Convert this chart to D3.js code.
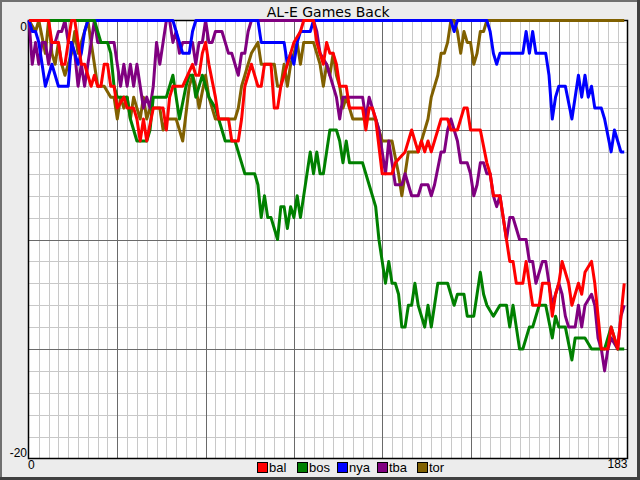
<!DOCTYPE html>
<html><head><meta charset="utf-8">
<script src="https://cdn.jsdelivr.net/npm/d3@7/dist/d3.min.js"></script>
<style>html,body{margin:0;padding:0;background:#ececec;}svg{display:block;}</style>
</head><body>
<svg id="c" width="640" height="480"></svg>
<script>
const title = "AL-E Games Back";
const teams = ["bal","bos","nya","tba","tor"];
const colors = ["#ff0000","#008000","#0000ff","#800080","#806000"];
const xTickLabels = ["0","183"];
const yTickLabels = ["0","-20"];

// [day, games back]
const bal = [[0,0],[6,0],[7,-1],[9,-1],[10,-2],[11,-2],[12,-1],[13,0],[14,0],[15,-1],[16,-2],[17,-2],[19,-3],[20,-2.5],[21,-3],[22,-3],[23,-2],[24,-2],[25,-3],[26,-3],[27,-4],[29,-3.5],[30,-4],[32,-4],[33,-4.5],[34,-5.5],[35,-4.5],[36,-5.5],[38,-4],[41,-4],[42,-5],[43,-3.5],[44,-3],[47,-3],[50,-2],[51,-2.5],[52,-2.5],[53,-1.5],[54,-1],[55,-2],[57,-3.5],[58,-4.5],[61,-4.5],[62,-5.5],[64,-5.5],[65,-4.5],[66,-3],[67,-2.5],[68,-2],[70,-3],[71,-3],[72,-2],[74,-2],[75,-4],[76,-4],[77,-3],[79,-2],[80,-1.5],[81,-1],[83,-0.5],[84,0],[87,0],[88,-1],[90,-2],[91,-1],[92,-1.5],[93,-1.5],[94,-2],[95,-3],[97,-3],[98,-4],[102,-4],[103,-5],[104,-4],[105,-4],[106,-4.5],[108,-7],[111,-7],[112,-6.5],[115,-6],[117,-5],[119,-6],[120,-5.5],[121,-6],[122,-5.5],[123,-6],[125,-5],[126,-4.5],[128,-4.5],[129,-5],[131,-5],[133,-4],[134,-4],[135,-5],[138,-5],[140,-6.5],[141,-7],[142,-8],[144,-8],[145,-9],[146,-10],[147,-11],[148,-11],[149,-12],[151,-12],[152,-11],[153,-12],[154,-13],[156,-13],[157,-12],[159,-12],[160,-13.5],[161,-12.5],[162,-12],[163,-11],[165,-12],[166,-13],[168,-12],[169,-12.5],[170,-11.5],[172,-11],[173,-12],[174,-13.5],[175,-15],[177,-15],[178,-14],[180,-15],[181,-13.5],[182,-12]];

const bos = [[0,0],[18,0],[20,0],[21,-0.5],[22,-1],[24,-1],[25,-1.5],[26,-3],[27,-3.5],[29,-3.5],[30,-3.5],[31,-4.5],[33,-5.5],[36,-5.5],[37,-5],[38,-3.5],[42,-3.5],[44,-2.5],[46,-4.5],[48,-3],[49,-2.5],[50,-2.5],[51,-3.5],[52,-3],[53,-2.5],[54,-3],[55,-3.5],[57,-4],[59,-5],[60,-5.5],[63,-5.5],[65,-6.5],[66,-7],[69,-7],[70,-7.5],[71,-9],[72,-8],[73,-9],[74,-9],[76,-10],[77,-8.5],[78,-8.5],[79,-9.5],[80,-8.5],[81,-9],[82,-8],[83,-9],[85,-7],[86,-6],[87,-7],[88,-6],[89,-7],[90,-7],[91,-6],[92,-5],[94,-5],[95,-5.5],[96,-6.5],[97,-5.5],[98,-6.5],[102,-6.5],[104,-7.5],[106,-8.5],[107,-10],[108,-11],[109,-12],[110,-11],[111,-12],[112,-12],[113,-12.5],[114,-14],[115,-14],[116,-13],[117,-13],[118,-12],[119,-13],[121,-14],[122,-13],[123,-14],[124,-13],[125,-12],[128,-12],[130,-13],[131,-12.5],[133,-12.5],[134,-13.5],[136,-13.5],[137,-12.5],[138,-11.5],[139,-12.5],[140,-13],[142,-13.5],[144,-13],[146,-13],[147,-14],[148,-13],[149,-14],[150,-15],[151,-15],[153,-14],[154,-14],[156,-13],[158,-13],[160,-14.5],[161,-13.5],[162,-14],[164,-14],[166,-15.5],[167,-14.5],[170,-14.5],[172,-15],[176,-15],[178,-14],[180,-15],[182,-15]];

const nya = [[0,0],[1,-0.5],[2,-0.5],[3,-1],[4,-2],[5,-3],[6,-2.5],[7,-2],[8,-2.5],[9,-3],[12,-3],[13,-1],[14,-1.5],[15,-2],[16,-1.5],[17,-0.5],[18,0],[44,0],[45,-0.5],[46,-1],[47,-1.5],[49,-1.5],[50,-0.5],[51,0],[70,0],[71,-1],[78,-1],[79,-2],[80,-1.5],[81,-2],[82,-1],[83,-0.5],[86,-0.5],[87,0],[129,0],[130,-0.5],[131,0],[140,0],[141,-0.5],[142,-1.5],[143,-2],[144,-1.5],[151,-1.5],[152,-0.5],[153,-1.5],[154,-0.5],[155,-1.5],[158,-1.5],[159,-2.5],[160,-4.5],[161,-3.5],[162,-3],[164,-3],[166,-4.5],[168,-2.5],[169,-3.5],[170,-2.5],[171,-3.5],[172,-3],[173,-4],[175,-4],[176,-4.5],[178,-6],[179,-5],[181,-6],[182,-6]];

const tba = [[0,0],[1,-2],[2,-1],[3,-2],[4,-1],[5,-1],[6,-2],[7,-1],[8,-1],[9,-0.5],[10,-0.5],[11,0],[12,-1],[13,-1],[14,-1.5],[15,-3],[16,-2],[17,-3],[18,-2],[19,-1],[20,0],[21,-1],[26,-1],[27,-2],[28,-3],[29,-2],[30,-3],[31,-2],[32,-3],[33,-2],[34,-3],[35,-4],[36,-3.5],[37,-4],[38,-3],[39,-1],[40,-2],[41,-1],[42,0],[43,0],[44,-1],[45,-0.5],[46,-1.5],[47,-1],[50,-1],[51,-2],[52,-1],[53,-1],[54,0],[55,-1],[56,-1],[57,-0.5],[59,-0.5],[60,-1],[61,-1.5],[62,-1.5],[63,-2],[64,-2.5],[65,-1.5],[66,-1.5],[67,-0.5],[68,0],[87,0],[88,-0.5],[89,-1.5],[91,-2],[92,-2.5],[93,-3],[94,-3.5],[95,-4.5],[96,-3.5],[101,-3.5],[102,-3.5],[103,-4.5],[104,-3.5],[105,-4],[106,-4.5],[107,-5],[108,-6],[109,-7],[110,-5.5],[111,-6.5],[112,-7.5],[114,-7.5],[115,-7],[116,-7.5],[117,-8],[119,-8],[120,-7.5],[122,-7.5],[123,-8],[124,-7.5],[126,-6],[127,-6],[128,-5],[129,-4.5],[130,-5],[131,-5.5],[132,-6.5],[134,-6.5],[135,-7],[136,-8],[137,-7.5],[138,-6.5],[139,-6.5],[140,-7],[141,-7],[142,-8],[143,-8.5],[144,-8],[145,-9],[146,-10],[147,-9],[148,-9],[149,-9.5],[150,-10],[152,-10],[153,-11],[154,-11],[155,-12],[157,-11],[158,-11],[159,-12],[160,-13],[162,-12],[163,-12.5],[164,-13.5],[165,-14],[167,-14],[168,-13],[169,-14],[170,-13],[172,-12.5],[173,-13],[174,-14.5],[175,-15],[176,-16],[177,-15],[178,-14.5],[180,-15],[181,-13.5],[182,-13]];

const tor = [[0,0],[2,-0.5],[3,0],[5,-1.5],[6,0],[7,-1.5],[8,-2],[9,-1],[10,-2],[11,-2.5],[12,-2],[13,-1.5],[14,-0.5],[15,-1.5],[17,-0.5],[18,0],[19,-1],[20,-2],[21,-3],[23,-3],[25,-3.5],[26,-3.5],[27,-4.5],[28,-3.5],[29,-4],[30,-3.5],[31,-4.5],[32,-3.5],[33,-4],[34,-4.5],[35,-3.5],[36,-4.5],[37,-4],[40,-4],[41,-5],[42,-4.5],[45,-4.5],[47,-5.5],[49,-3],[50,-2.5],[51,-3],[52,-4],[54,-2.5],[55,-3.5],[56,-4],[57,-4.5],[61,-4.5],[63,-4.5],[64,-4],[65,-3],[66,-2.5],[67,-2],[68,-1.5],[70,-1],[71,-2],[75,-2],[76,-3],[77,-3],[78,-2],[79,-3],[80,-2],[81,-1.5],[82,-1],[83,-2],[84,-1],[87,-1],[89,-2],[90,-3],[91,-2],[92,-2.5],[93,-1.5],[94,-2.5],[95,-3],[96,-4],[97,-3.5],[98,-4],[99,-4.5],[106,-4.5],[107,-5],[108,-5.5],[111,-5.5],[113,-7],[114,-8],[115,-7],[116,-6],[119,-6],[120,-5.5],[121,-5],[122,-4.5],[123,-3.5],[125,-2.5],[126,-1.5],[127,-1.5],[128,-1],[129,0],[130,0],[131,-0.5],[132,-1.5],[133,-0.5],[134,-1],[135,-1],[136,-2],[137,-1.5],[138,-0.5],[139,-0.5],[140,0],[182,0]];

const seriesData = [bal, bos, nya, tba, tor];

const W = 640, H = 480;
const svg = d3.select("#c");
const x = d3.scaleLinear().domain([0, 183]).range([29, 627.5]);
const y = d3.scaleLinear().domain([-20, 0]).range([458.5, 20.5]);

// frame
svg.append("rect").attr("x",0).attr("y",0).attr("width",W).attr("height",H).attr("fill","#ececec");
svg.append("rect").attr("x",1).attr("y",1).attr("width",W-3).attr("height",H-3).attr("fill","none").attr("stroke","#707070").attr("stroke-width",2);
svg.append("line").attr("x1",0).attr("x2",W).attr("y1",H-1.5).attr("y2",H-1.5).attr("stroke","#404040").attr("stroke-width",3);
svg.append("line").attr("x1",W-1.5).attr("x2",W-1.5).attr("y1",0).attr("y2",H).attr("stroke","#404040").attr("stroke-width",3);

// plot bg
svg.append("rect").attr("x",x(0)).attr("y",y(0)).attr("width",x(183)-x(0)).attr("height",y(-20)-y(0)).attr("fill","#ffffff");

const g = svg.append("g");
const vDays = d3.range(3, 183, 3);
g.selectAll("line.vg").data(vDays).join("line")
  .attr("x1", d => Math.round(x(d)) + 0.5).attr("x2", d => Math.round(x(d)) + 0.5)
  .attr("y1", y(0)).attr("y2", y(-20))
  .attr("stroke", d => d % 27 === 0 ? "#6a6a6a" : "#c8c8c8").attr("stroke-width", 1);
const hVals = d3.range(-19, 0, 1);
g.selectAll("line.hg").data(hVals).join("line")
  .attr("x1", x(0)).attr("x2", x(183))
  .attr("y1", d => Math.round(y(d)) + 0.5).attr("y2", d => Math.round(y(d)) + 0.5)
  .attr("stroke", d => d % 5 === 0 ? "#6a6a6a" : "#c8c8c8").attr("stroke-width", 1);
g.selectAll("line").filter(function(){return d3.select(this).attr("stroke")==="#6a6a6a";}).raise();

svg.append("rect").attr("x",x(0)-0.5).attr("y",y(0)).attr("width",x(183)-x(0)+0.5).attr("height",y(-20)-y(0))
  .attr("fill","none").attr("stroke","#000").attr("stroke-width",1.5);

const line = d3.line().x(d => x(d[0])).y(d => y(d[1]));
const order = [4,3,2,1,0];
const lg = svg.append("g");
order.forEach(i => {
  lg.append("path").datum(seriesData[i]).attr("d", line)
    .attr("fill","none").attr("stroke", colors[i]).attr("stroke-width", 3)
    .attr("stroke-linejoin","round").attr("stroke-linecap","butt");
});

svg.append("text").attr("x", (x(0)+x(183))/2).attr("y", 17).attr("text-anchor","middle")
  .attr("font-family","DejaVu Sans, sans-serif").attr("font-size",14).attr("fill","#000").text(title);

const lf = "Liberation Sans, Arial, sans-serif";
svg.append("text").attr("x", 27).attr("y", 31).attr("text-anchor","end").attr("font-family",lf).attr("font-size",12).text(yTickLabels[0]);
svg.append("text").attr("x", 27).attr("y", 457).attr("text-anchor","end").attr("font-family",lf).attr("font-size",12).text(yTickLabels[1]);
svg.append("text").attr("x", x(0)-1).attr("y", 469).attr("text-anchor","start").attr("font-family",lf).attr("font-size",12).text(xTickLabels[0]);
svg.append("text").attr("x", x(183)).attr("y", 468).attr("text-anchor","end").attr("font-family",lf).attr("font-size",12).text(xTickLabels[1]);

const leg = svg.append("g").selectAll("g").data(teams).join("g")
  .attr("transform", (d,i) => `translate(${257 + 40*i},462)`);
leg.append("rect").attr("x",0.5).attr("y",0.5).attr("width",10).attr("height",10)
  .attr("fill",(d,i)=>colors[i]).attr("stroke","#000").attr("stroke-width",1);
leg.append("text").attr("x",12).attr("y",10).attr("font-family",lf).attr("font-size",13).text(d=>d);
</script>
</body></html>
